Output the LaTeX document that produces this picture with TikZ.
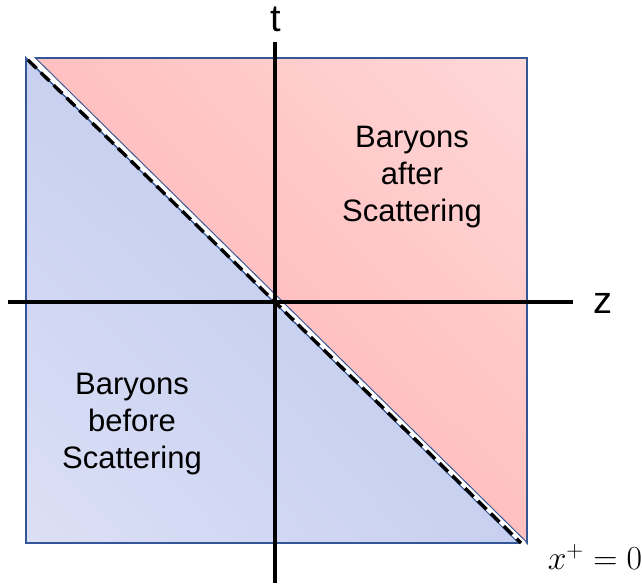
\documentclass[tikz,border=0pt]{standalone}
\usepackage{fontspec}
\setmainfont{Liberation Sans}
\usetikzlibrary{positioning, calc, shadings}
\definecolor{edgeblue}{RGB}{52,86,150}
\definecolor{redlight}{RGB}{255,216,216}
\definecolor{redmid}{RGB}{255,192,192}
\definecolor{reddark}{RGB}{255,170,170}
\definecolor{bluelight}{RGB}{220,224,246}
\definecolor{bluemid}{RGB}{200,208,240}
\definecolor{bluedark}{RGB}{184,196,236}

\begin{document}
\begin{tikzpicture}[
    x=1pt, y=-1pt,
    region/.style={draw=edgeblue, line width=1.6pt},
    axis/.style={line width=3.4pt, black},
    lbl/.style={font=\fontsize{31}{37}\selectfont, align=center, text=black},
    axlbl/.style={font=\fontsize{38}{40}\selectfont, inner sep=0pt},
]
\useasboundingbox (0,0) rectangle (642,588);

% Regions
\shade[region, lower left=bluelight, upper right=bluedark, upper left=bluemid, lower right=bluemid]
    (26,58) -- (26,543) -- (519,543) -- cycle;
\shade[region, lower left=reddark, upper right=redlight, upper left=redmid, lower right=redmid]
    (35,58) -- (527,58) -- (527,543) -- cycle;

% Light front x^+ = 0
\draw[white, line width=5pt] (30,57) -- (524,544);
\draw[black, line width=3.4pt, dash pattern=on 12pt off 6pt] (28,60) -- (521,543);

% Axes
\coordinate (tbot) at (275,583);
\coordinate (ttop) at (275,42);
\coordinate (zleft) at (8,302);
\coordinate (zright) at (573,302);
\draw[axis] (tbot) -- (ttop);
\draw[axis] (zleft) -- (zright);

\node[axlbl] (tlab) at (276,19) {t};
\node[axlbl] (zlab) at (603,303) {z};

% Labels
\node[lbl] (after) at (412,177) {Baryons\\after\\Scattering};
\node[lbl] (before) at (132,424) {Baryons\\before\\Scattering};
\node[inner sep=0pt] (front) at (595,557) {\scalebox{1.35}{\fontsize{24}{28}\selectfont$x^+=0$}};
\end{tikzpicture}
\end{document}
